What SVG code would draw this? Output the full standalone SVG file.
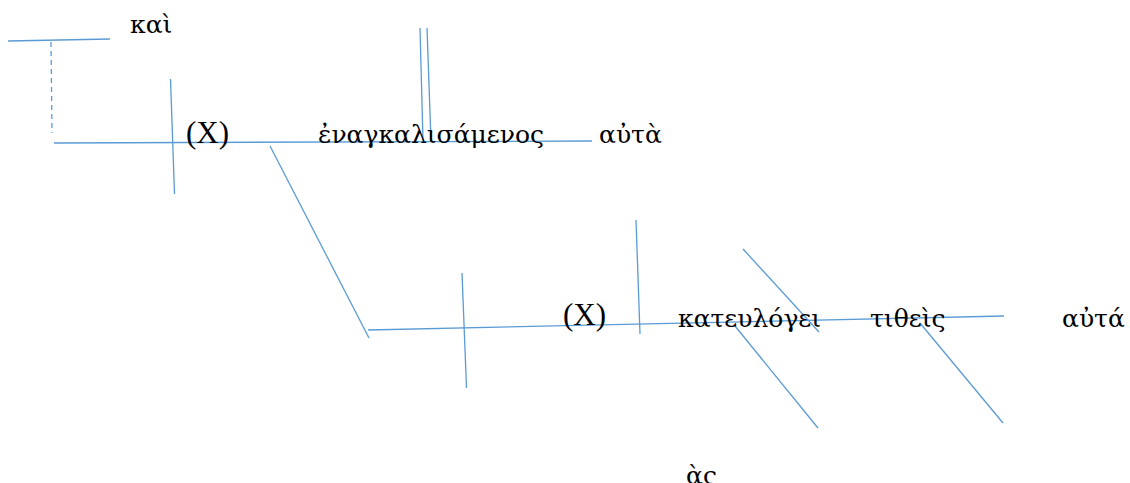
<svg xmlns="http://www.w3.org/2000/svg" width="1130" height="483" viewBox="0 0 1130 483">
<style>
.ln{stroke:#5B9BD5;stroke-width:1.3;fill:none}
.dash{stroke-dasharray:5,4}
.t{font-family:"DejaVu Serif","Liberation Serif",serif;font-size:25px;fill:#000}
.x{font-family:"Liberation Serif","Times New Roman",serif;font-size:31px;fill:#000}
</style>
<rect width="1130" height="483" fill="#fff"/>
<g id="connectors">
<line class="ln" x1="8" y1="41" x2="110" y2="39"/>
<line class="ln dash" x1="51" y1="42" x2="52" y2="133"/>
<line class="ln" x1="54" y1="143" x2="592" y2="141"/>
<line class="ln" x1="170.5" y1="79" x2="174.5" y2="194"/>
<line class="ln" x1="420" y1="28" x2="423" y2="141"/>
<line class="ln" x1="427" y1="28" x2="431" y2="141"/>
<line class="ln" x1="270" y1="146" x2="369" y2="338"/>
<line class="ln" x1="368" y1="330" x2="1004" y2="316"/>
<line class="ln" x1="462" y1="273" x2="466.5" y2="388"/>
<line class="ln" x1="636" y1="220" x2="640" y2="334"/>
<line class="ln" x1="743" y1="249" x2="819" y2="332"/>
<line class="ln" x1="735" y1="326" x2="818" y2="428"/>
<line class="ln" x1="920" y1="323" x2="1003" y2="423"/>
</g>
<g id="n-kai"><text class="t" x="130" y="33">καὶ</text></g>
<g id="n-x1"><text class="x" x="186" y="143">(X)</text></g>
<g id="n-enagk"><text class="t" x="318" y="143">ἐναγκαλισάμενος</text></g>
<g id="n-auta1"><text class="t" x="599" y="143">αὐτὰ</text></g>
<g id="n-x2"><text class="x" x="563" y="325">(X)</text></g>
<g id="n-kateul"><text class="t" x="678" y="327">κατευλόγει</text></g>
<g id="n-titheis"><text class="t" x="870" y="327">τιθεὶς</text></g>
<g id="n-auta2"><text class="t" x="1062" y="327">αὐτά</text></g>
<g id="n-as"><text class="t" x="686" y="484">ὰς</text></g>
</svg>
